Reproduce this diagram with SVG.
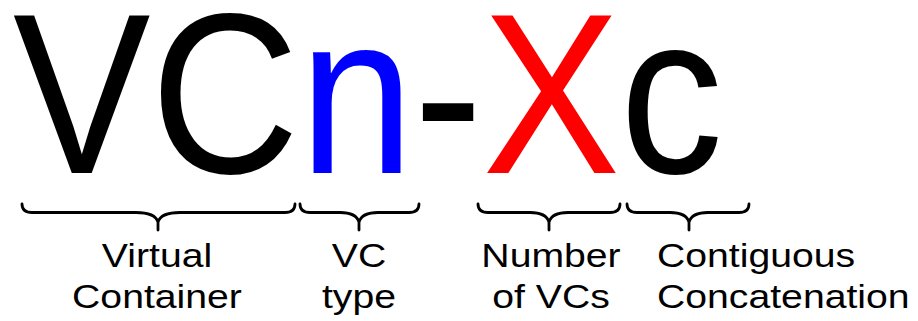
<svg xmlns="http://www.w3.org/2000/svg" width="918" height="321" viewBox="0 0 918 321">
<style>
.big{font-family:"Liberation Sans",Arial,sans-serif;font-size:229px}
.lbl{font-family:"Liberation Sans",Arial,sans-serif;font-size:33.5px;fill:#000}
.brace{fill:none;stroke:#000;stroke-width:2.8;stroke-linecap:round;stroke-linejoin:round}
</style>
<rect width="918" height="321" fill="#fff"/>
<g id="title">
<text class="big" transform="scale(0.9,1)" x="14.4" y="173"><tspan fill="#000">VC</tspan><tspan fill="#0000ff">n</tspan><tspan fill="#000">-</tspan><tspan fill="#ff0000">X</tspan><tspan fill="#000">c</tspan></text>
</g>
<g id="braces">
<path class="brace" d="M22,204 Q22,212.5 32,212.5 H136 Q155,212.5 158,222 Q161,212.5 180,212.5 H285 Q295,212.5 295,204 M158,221 V230"/>
<path class="brace" d="M300,204 Q300,212.5 310,212.5 H340 Q356,212.5 359,222 Q362,212.5 378,212.5 H409 Q419,212.5 419,204 M359,221 V230"/>
<path class="brace" d="M478,204 Q478,212.5 488,212.5 H530 Q546,212.5 549,222 Q552,212.5 568,212.5 H610 Q620,212.5 620,204 M549,221 V230"/>
<path class="brace" d="M627,204 Q627,212.5 637,212.5 H670 Q686,212.5 689,222 Q692,212.5 708,212.5 H739 Q749,212.5 749,204 M689,221 V230"/>
</g>
<g id="label-virtual-container">
<text class="lbl" transform="translate(157,0) scale(1.17,1)" text-anchor="middle"><tspan x="0" y="267">Virtual</tspan><tspan x="0" y="308">Container</tspan></text>
</g>
<g id="label-vc-type">
<text class="lbl" transform="translate(359,0) scale(1.17,1)" text-anchor="middle"><tspan x="0" y="267">VC</tspan><tspan x="0" y="308">type</tspan></text>
</g>
<g id="label-number-of-vcs">
<text class="lbl" transform="translate(551,0) scale(1.17,1)" text-anchor="middle"><tspan x="0" y="267">Number</tspan><tspan x="0" y="308">of VCs</tspan></text>
</g>
<g id="label-contiguous-concatenation">
<text class="lbl" transform="translate(657,0) scale(1.17,1)"><tspan x="0" y="267">Contiguous</tspan><tspan x="0" y="308">Concatenation</tspan></text>
</g>
</svg>
